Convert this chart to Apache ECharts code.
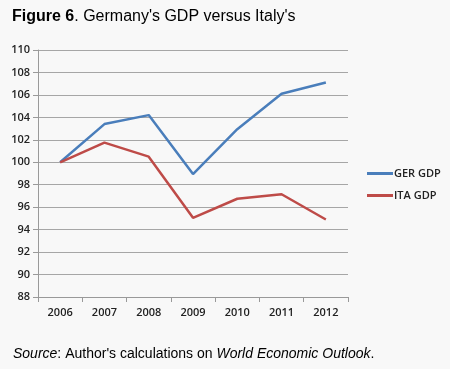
<!DOCTYPE html>
<html><head><meta charset="utf-8">
<script src="https://cdn.jsdelivr.net/npm/echarts@6/dist/echarts.min.js"></script>
<style>html,body{margin:0;padding:0;background:#f8f8f8}#c{width:450px;height:369px}</style>
</head><body><div id="c"></div>
<script>
const categories = ['2006','2007','2008','2009','2010','2011','2012'];
const gerGDP = [100, 103.4, 104.2, 98.95, 102.95, 106.1, 107.1];
const itaGDP = [100, 101.75, 100.5, 95.05, 96.75, 97.15, 94.9];
const yTicks = {min: 88, max: 110, interval: 2};

const chart = echarts.init(document.getElementById('c'), null, {renderer:'canvas'});
chart.setOption({
  backgroundColor: '#f8f8f8',
  animation: false,
  title: [{
    left: 7, top: 4,
    text: '{b|Figure 6}{n|. Germany\'s GDP versus Italy\'s}',
    textStyle: {fontWeight: 'normal', rich: {
      b: {fontFamily: 'Liberation Sans', fontWeight: 'bold', fontSize: 16, color: '#000'},
      n: {fontFamily: 'Liberation Sans', fontWeight: 'normal', fontSize: 16, color: '#000'}
    }}
  }, {
    left: 8, top: 342,
    text: '{i|Source}{n|: Author\'s calculations on }{i|World Economic Outlook}{n|.}',
    textStyle: {fontWeight: 'normal', rich: {
      i: {fontFamily: 'Liberation Sans', fontWeight: 'normal', fontStyle: 'italic', fontSize: 14, color: '#000'},
      n: {fontFamily: 'Liberation Sans', fontWeight: 'normal', fontSize: 14, color: '#000'}
    }}
  }],
  legend: {
    orient: 'vertical', left: 362, top: 163, itemGap: 11,
    itemWidth: 26, itemHeight: 3, icon: 'rect',
    textStyle: {fontFamily: 'Open Sans', fontWeight: 600, fontSize: 11, color: '#222', padding: [0,0,0,-4]},
    data: ['GER GDP', 'ITA GDP']
  },
  grid: {left: 38, top: 50, width: 310, height: 247, containLabel: false},
  xAxis: {
    type: 'category', data: categories, boundaryGap: true,
    axisLine: {lineStyle: {color: '#999'}},
    axisTick: {show: true, length: 5, lineStyle: {color: '#999'}},
    axisLabel: {fontFamily: 'Open Sans', fontWeight: 600, fontSize: 11, color: '#222', margin: 10}
  },
  yAxis: {
    type: 'value', min: yTicks.min, max: yTicks.max, interval: yTicks.interval,
    axisLine: {show: true, lineStyle: {color: '#999'}},
    axisTick: {show: true, length: 5, lineStyle: {color: '#999'}},
    splitLine: {lineStyle: {color: '#a6a6a6', width: 1}},
    axisLabel: {fontFamily: 'Open Sans', fontWeight: 600, fontSize: 11, color: '#222', margin: 8}
  },
  series: [{
    name: 'GER GDP', type: 'line', data: gerGDP, symbol: 'none',
    lineStyle: {color: '#4a7ebb', width: 2.5}, itemStyle: {color: '#4a7ebb'}
  }, {
    name: 'ITA GDP', type: 'line', data: itaGDP, symbol: 'none',
    lineStyle: {color: '#be4b48', width: 2.5}, itemStyle: {color: '#be4b48'}
  }]
});
</script></body></html>
